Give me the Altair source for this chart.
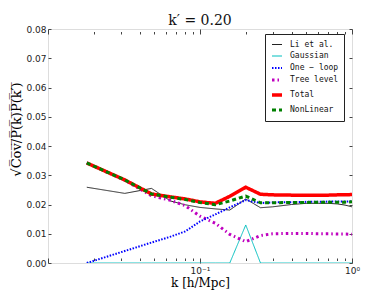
import altair as alt
import pandas as pd

k = [0.018, 0.032, 0.048, 0.064, 0.08, 0.1, 0.126, 0.157, 0.2, 0.25, 0.3, 0.4, 0.5, 0.6, 0.7, 0.8, 0.9, 1.0]

li_etal  = [0.0259, 0.0238, 0.0255, 0.0212, 0.0199, 0.0190, 0.0185, 0.0181, 0.0219, 0.0189, 0.0192, 0.0200, 0.0204, 0.0204, 0.0204, 0.0202, 0.0198, 0.0192]
gaussian = [0.0, 0.0, 0.0, 0.0, 0.0, 0.0, 0.0, 0.0, 0.0130, 0.0, 0.0, 0.0, 0.0, 0.0, 0.0, 0.0, 0.0, 0.0]
one_loop = [0.0, 0.0041, 0.0070, 0.0090, 0.0108, 0.0142, 0.0166, 0.0190, 0.0215, 0.0205, 0.0207, 0.0208, 0.0209, 0.0209, 0.0210, 0.0210, 0.0210, 0.0211]
tree     = [0.0342, 0.0283, 0.0230, 0.0214, 0.0196, 0.0160, 0.0136, 0.0098, 0.0073, 0.0094, 0.0100, 0.0101, 0.0101, 0.0100, 0.0100, 0.0099, 0.0099, 0.0098]
total    = [0.0342, 0.0284, 0.0236, 0.0226, 0.0219, 0.0209, 0.0204, 0.0228, 0.0259, 0.0235, 0.0233, 0.0232, 0.0232, 0.0232, 0.0232, 0.0233, 0.0233, 0.0234]
nonlin   = [0.0342, 0.0284, 0.0236, 0.0225, 0.0217, 0.0207, 0.0199, 0.0212, 0.0229, 0.0206, 0.0206, 0.0207, 0.0207, 0.0208, 0.0208, 0.0208, 0.0208, 0.0209]

names = ["Li et al.", "Gaussian", "One − loop", "Tree level", "Total", "NonLinear"]
colors = ["#222222", "#00bfbf", "#0000ff", "#bf00bf", "#ff0000", "#008000"]
widths = [1, 1, 2, 3, 3.5, 3]
dashes = [[1, 0], [1, 0], [1.5, 1.5], [2.5, 3, 1.5, 3], [1, 0], [4, 3]]

draw_order = [("Gaussian", gaussian), ("Li et al.", li_etal), ("Tree level", tree),
              ("One − loop", one_loop), ("Total", total), ("NonLinear", nonlin)]
rows = []
for name, vals in draw_order:
    for kk, v in zip(k, vals):
        rows.append({"k": kk, "v": v, "s": name})
df = pd.DataFrame(rows)

xticks = [0.01, 0.02, 0.03, 0.04, 0.05, 0.06, 0.07, 0.08, 0.09,
          0.1, 0.2, 0.3, 0.4, 0.5, 0.6, 0.7, 0.8, 0.9, 1.0]
yticks = [0, 0.01, 0.02, 0.03, 0.04, 0.05, 0.06, 0.07, 0.08]

major_test = "datum.value == 0.01 || datum.value == 0.1 || datum.value == 1"
tick_cond = {"condition": {"test": major_test, "value": 5}, "value": 2.5}

ytitle = "√" + "".join(c + "\u0305" for c in "Cov/P(k)P(k′)")

xscale = alt.Scale(type="log", domain=[0.01, 1.0], nice=False)
yscale = alt.Scale(domain=[0, 0.08], nice=False)

lines = alt.Chart(df).mark_line(clip=True).encode(
    x=alt.X("k:Q", scale=xscale,
            axis=alt.Axis(values=xticks, title="k [h/Mpc]", orient="bottom",
                          labelExpr="datum.value == 0.1 ? '10⁻¹' : (datum.value == 1 ? '10⁰' : '')",
                          tickSize=tick_cond, offset=-5, labelPadding=3, domain=False,
                          grid=False, titleFont="DejaVu Serif", titleFontSize=12,
                          titleFontWeight="normal", titlePadding=2,
                          labelFont="DejaVu Sans", labelFontSize=9, labelColor="#222",
                          tickColor="#444", labelFlush=False)),
    y=alt.Y("v:Q", scale=yscale,
            axis=alt.Axis(values=yticks, format=".2f", title=ytitle, orient="left",
                          tickSize=3, offset=-3, labelPadding=2, domain=False, grid=False,
                          titleFont="DejaVu Serif", titleFontSize=13, titleFontWeight="normal",
                          titlePadding=2, titleY=100, labelFont="DejaVu Sans", labelFontSize=9,
                          labelColor="#222", tickColor="#444")),
    color=alt.Color("s:N", scale=alt.Scale(domain=names, range=colors),
                    legend=alt.Legend(title=None, orient="none", legendX=217, legendY=5,
                                      symbolType="stroke", symbolSize=100,
                                      labelFont="DejaVu Sans Mono", labelFontSize=8,
                                      labelColor="#111", strokeColor="#222",
                                      fillColor="white", padding=5, rowPadding=1.5,
                                      labelOffset=6, cornerRadius=0)),
    strokeDash=alt.StrokeDash("s:N", scale=alt.Scale(domain=names, range=dashes), legend=alt.Legend(title=None)),
    strokeWidth=alt.StrokeWidth("s:N", scale=alt.Scale(type="ordinal", domain=names, range=widths), legend=alt.Legend(title=None)),
)

frame = alt.Chart(df).mark_point(opacity=0).encode(
    x=alt.X("k:Q", scale=xscale,
            axis=alt.Axis(values=xticks, orient="top", labels=False, title=None,
                          tickSize=tick_cond, offset=-5, domain=False, grid=False,
                          tickColor="#444")),
    y=alt.Y("v:Q", scale=yscale,
            axis=alt.Axis(values=yticks, orient="right", labels=False, title=None,
                          tickSize=3, offset=-3, domain=False, grid=False,
                          tickColor="#444")),
)

chart = alt.layer(frame, lines).resolve_axis(x="independent", y="independent").properties(
    width=304, height=234,
    title=alt.Title("k′ = 0.20", font="DejaVu Serif", fontSize=14, fontWeight="normal",
                    offset=-3, color="#111"),
    autosize=alt.AutoSizeParams(type="none"),
    padding={"left": 40, "top": 21, "right": 22, "bottom": 30},
).configure_view(stroke="#555", strokeWidth=1.2).configure(background="white")

chart.save("out.html", embed_options={"renderer": "svg", "actions": False})
